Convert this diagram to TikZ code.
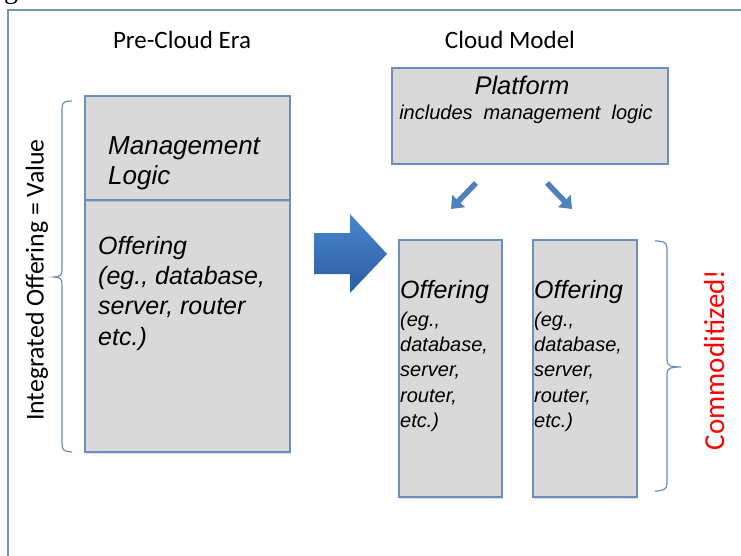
\documentclass[tikz,border=0pt]{standalone}
\usepackage{fontspec}
\setmainfont{Liberation Sans}
\newfontfamily\calib{Carlito}
\newfontfamily\serifg{Liberation Serif}
\usetikzlibrary{arrows.meta,shadows}
\definecolor{edgeblue}{RGB}{108,142,191}
\definecolor{boxfill}{RGB}{217,217,217}
\definecolor{arrblue}{RGB}{79,129,189}
\definecolor{bigtop}{RGB}{74,134,206}
\definecolor{bigbot}{RGB}{42,92,160}
\definecolor{framecol}{RGB}{120,146,180}
\begin{document}
\begin{tikzpicture}[x=1pt,y=-1pt,
  box/.style={draw=edgeblue, line width=1.4pt, fill=boxfill, inner sep=0pt, outer sep=0pt,
    anchor=north west, drop shadow={opacity=0.25, shadow xshift=1.2pt, shadow yshift=-1.5pt}},
  bigtxt/.style={anchor=base west, inner sep=0pt, font=\itshape\fontsize{25}{26}\selectfont},
  mgtxt/.style={anchor=base west, inner sep=0pt, font=\itshape\fontsize{26}{27}\selectfont},
  smalltxt/.style={anchor=base west, inner sep=0pt, font=\itshape\fontsize{20}{22}\selectfont},
  head/.style={anchor=base, inner sep=0pt, font=\calib\fontsize{25}{27}\selectfont},
  bracecol/.style={draw=edgeblue, line width=1.2pt},
  smallarr/.style={draw=arrblue, line width=5.5pt, -{Triangle[width=17pt,length=11pt]}}]
\useasboundingbox (0,0) rectangle (741,556);
\fill[white] (0,0) rectangle (741,556);
% partial caption glyph
\begin{scope}
\clip (0,0) rectangle (40,8);
\node[anchor=base west, inner sep=0pt, font=\serifg\fontsize{28}{28}\selectfont] (capg) at (4,-1) {g};
\end{scope}
% frame
\draw[framecol, line width=1.5pt] (8,556) -- (8,10) -- (741,10);
% headers
\node[head] (prehead) at (182,49) {Pre-Cloud Era};
\node[head] (cloudhead) at (510,49) {Cloud Model};
% left box
\node[box, minimum width=205, minimum height=252] (offer) at (85,200) {};
\node[box, minimum width=205, minimum height=104] (mgmt) at (85,96) {};
\node[mgtxt] (mg1) at (108,155) {Management};
\node[mgtxt] (mg2) at (108,185) {Logic};
\node[bigtxt] (of1) at (98,254) {Offering};
\node[bigtxt] (of2) at (98,284) {(eg., database,};
\node[bigtxt] (of3) at (98,314) {server, router};
\node[bigtxt] (of4) at (98,345) {etc.)};
% platform
\node[box, minimum width=276, minimum height=96] (platform) at (392,68) {};
\node[anchor=base, inner sep=0pt, font=\itshape\fontsize{25.5}{26}\selectfont] (plt) at (522,95) {Platform};
\node[anchor=base, inner sep=0pt, font=\itshape\fontsize{20}{22}\selectfont] (plt2) at (526,120) {includes\ \ management\ \ logic};
% cloud offering boxes
\node[box, minimum width=103, minimum height=257] (cb1) at (399,240) {};
\node[box, minimum width=104, minimum height=257] (cb2) at (533,240) {};
\foreach \bx/\nm in {400/a,534/b}{
  \node[bigtxt] (o1\nm) at (\bx,298) {Offering};
  \node[smalltxt] (o2\nm) at (\bx,326) {(eg.,};
  \node[smalltxt] (o3\nm) at (\bx,351) {database,};
  \node[smalltxt] (o4\nm) at (\bx,376) {server,};
  \node[smalltxt] (o5\nm) at (\bx,402) {router,};
  \node[smalltxt] (o6\nm) at (\bx,427) {etc.)};
}
% big arrow
\shade[top color=bigtop, bottom color=bigbot] (314,233) -- (350,233) -- (350,214) -- (387,254) -- (350,293) -- (350,274) -- (314,274) -- cycle;
% small arrows
\coordinate (la1) at (476,183);
\coordinate (la2) at (451,209);
\coordinate (ra1) at (547,183);
\coordinate (ra2) at (572,209);
\draw[smallarr] (la1) -- (la2);
\draw[smallarr] (ra1) -- (ra2);
% left brace
\draw[bracecol] (72,101) .. controls (65,101) and (62,102) .. (62,108) -- (62,270)
  .. controls (62,275) and (60,277) .. (54,277) .. controls (60,277) and (62,279) .. (62,284)
  -- (62,445) .. controls (62,450) and (65,452) .. (72,452);
% right brace
\draw[bracecol] (655,241) .. controls (663,241) and (667,242) .. (667,248) -- (667,360)
  .. controls (667,365) and (669,367) .. (681,367) .. controls (669,367) and (667,369) .. (667,374)
  -- (667,484) .. controls (667,489) and (663,491) .. (655,491);
% rotated labels
\node[rotate=90, inner sep=0pt, font=\calib\fontsize{25.8}{27}\selectfont] (intval) at (37,280) {Integrated Offering = Value};
\node[rotate=90, anchor=base, inner sep=0pt, text=red, font=\calib\fontsize{29}{30}\selectfont] (commod) at (724,360) {Commoditized!};
\end{tikzpicture}
\end{document}
